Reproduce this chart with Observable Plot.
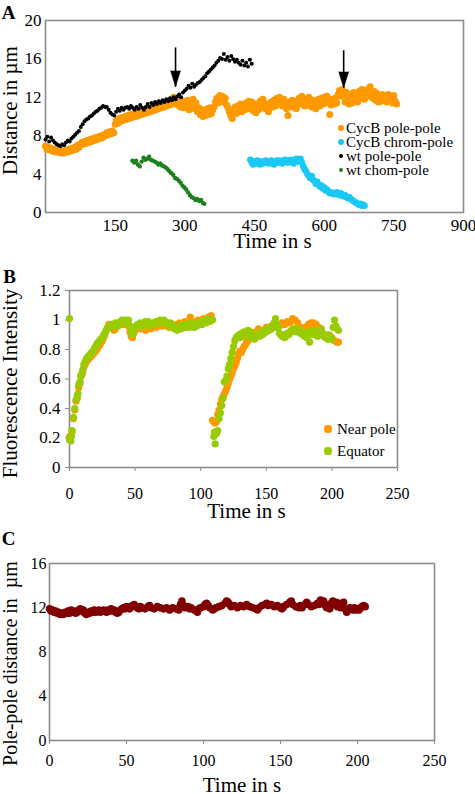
<!DOCTYPE html>
<html><head><meta charset="utf-8">
<script src="https://cdn.jsdelivr.net/npm/d3@7"></script>
<script src="https://cdn.jsdelivr.net/npm/@observablehq/plot@0.6"></script>
<style>
body{margin:0;background:#fff;font-family:"Liberation Serif",serif;}
#root{position:relative;width:475px;height:794px;overflow:hidden;}
#root svg, #root svg text{font-family:"Liberation Serif",serif !important;}
.panel{position:absolute;left:0;}
.leg{position:absolute;display:flex;align-items:center;white-space:nowrap;font-family:"Liberation Serif",serif;color:#000;}
.leg .box{display:inline-flex;width:10px;justify-content:center;align-items:center;}
.leg .dot{display:inline-block;border-radius:50%;}
</style>
</head><body>
<div id="root">
  <div class="panel" id="pa" style="top:0"></div>
  <div class="panel" id="pb" style="top:260px"></div>
  <div class="panel" id="pc" style="top:530px"></div>
</div>
<script>
// ---------- Panel A data: [time s, distance µm] ----------
const cycbPolePole = [[0,6.9],[3,6.6],[6,6.8],[9,6.5],[12,6.7],[15,6.4],[18,6.6],[21,6.3],[24,6.5],[27,6.3],[30,6.4],[33,6.2],[36,6.4],[39,6.2],[42,6.3],[45,6.5],[48,6.3],[51,6.6],[54,6.4],[57,6.7],[60,6.5],[63,6.8],[66,6.6],[69,7.0],[72,6.8],[75,7.1],[78,7.3],[81,7.1],[84,7.4],[87,7.2],[90,7.5],[93,7.3],[96,7.6],[99,7.4],[102,7.7],[105,7.5],[108,7.8],[111,7.6],[114,7.9],[117,7.7],[120,8.0],[123,7.8],[126,8.1],[129,8.0],[132,8.3],[135,8.1],[138,8.4],[141,8.2],[144,8.5],[147,8.3],[150,9.2],[153,9.6],[156,9.3],[159,9.8],[162,9.5],[165,9.9],[168,9.6],[171,10.0],[174,9.7],[177,10.1],[180,9.8],[183,10.2],[186,9.9],[189,10.1],[192,10.4],[195,10.0],[198,10.3],[201,10.1],[204,10.5],[207,10.2],[210,10.6],[213,10.3],[216,10.7],[219,10.4],[222,10.8],[225,10.5],[228,10.9],[231,10.6],[234,11.0],[237,10.7],[240,11.1],[243,10.8],[246,11.2],[249,10.9],[252,11.3],[255,11.0],[258,11.4],[261,11.1],[264,11.5],[267,11.2],[270,11.7],[273,11.3],[276,12.0],[279,11.4],[282,11.8],[285,11.2],[288,11.5],[291,11.0],[294,11.3],[297,10.9],[300,11.6],[303,11.0],[306,11.7],[309,10.7],[312,11.5],[315,11.0],[318,11.8],[321,10.8],[324,11.4],[327,10.5],[330,10.9],[333,10.2],[336,10.7],[339,10.0],[342,10.5],[345,10.1],[348,10.8],[351,10.2],[354,10.9],[357,10.3],[360,10.7],[363,11.0],[366,11.5],[369,11.9],[372,11.4],[375,12.2],[378,11.6],[381,12.1],[384,11.5],[387,11.9],[390,11.2],[393,10.9],[396,10.5],[399,10.1],[402,9.8],[405,10.6],[408,11.0],[411,10.3],[414,11.1],[417,10.6],[420,11.3],[423,10.5],[426,11.2],[429,10.7],[432,11.4],[435,10.8],[438,11.6],[441,10.9],[444,11.5],[447,10.6],[450,11.3],[453,10.4],[456,11.1],[459,10.7],[462,11.6],[465,11.0],[468,11.8],[471,11.2],[474,10.8],[477,11.3],[480,10.5],[483,11.0],[486,11.5],[489,11.0],[492,11.7],[495,11.1],[498,11.9],[501,11.3],[504,12.0],[507,11.4],[510,11.1],[513,11.8],[516,11.2],[519,10.8],[522,10.1],[525,11.5],[528,11.0],[531,11.7],[534,11.1],[537,11.6],[540,10.8],[543,11.4],[546,11.9],[549,11.3],[552,12.1],[555,11.5],[558,11.1],[561,11.8],[564,11.2],[567,12.0],[570,11.4],[573,11.0],[576,11.7],[579,11.2],[582,10.8],[585,11.5],[588,11.8],[591,11.1],[594,11.9],[597,11.3],[600,12.0],[603,11.4],[606,12.1],[609,11.5],[612,10.2],[615,11.2],[618,11.8],[621,11.3],[624,11.9],[627,11.4],[630,12.3],[633,12.7],[636,12.1],[639,12.8],[642,12.3],[645,11.5],[648,12.5],[651,12.0],[654,11.3],[657,12.1],[660,11.4],[663,12.5],[666,11.7],[669,12.3],[672,11.5],[675,12.6],[678,11.9],[681,12.8],[684,12.1],[687,11.8],[690,12.7],[693,12.1],[696,12.9],[699,13.1],[702,12.3],[705,11.9],[708,12.6],[711,11.7],[714,12.4],[717,11.5],[720,12.2],[723,11.6],[726,12.3],[729,11.7],[732,12.1],[735,11.5],[738,12.3],[741,11.7],[744,12.1],[747,11.4],[750,12.2],[753,11.6],[756,11.3]];

const cycbChromPole = [[441,5.5],[444,5.2],[447,5.0],[450,5.3],[453,5.1],[456,5.4],[459,5.2],[462,5.0],[465,5.3],[468,5.1],[471,5.3],[474,5.4],[477,5.2],[480,5.1],[483,5.3],[486,5.4],[489,5.2],[492,5.0],[495,5.3],[498,5.4],[501,5.2],[504,5.4],[507,5.3],[510,5.1],[513,5.4],[516,5.5],[519,5.3],[522,5.2],[525,5.4],[528,5.5],[531,5.3],[534,5.1],[537,5.4],[540,5.6],[543,5.3],[546,5.5],[549,5.6],[552,5.2],[555,4.8],[558,4.5],[561,4.3],[564,4.0],[567,3.8],[570,3.6],[573,3.8],[576,3.4],[579,3.3],[582,3.0],[585,3.2],[588,2.9],[591,2.7],[594,2.8],[597,2.5],[600,2.6],[603,2.3],[606,2.4],[609,2.2],[612,2.0],[615,2.1],[618,2.0],[621,1.9],[624,2.0],[627,2.1],[630,1.9],[633,1.8],[636,2.0],[639,1.8],[642,1.7],[645,1.8],[648,1.6],[651,1.5],[654,1.6],[657,1.4],[660,1.3],[663,1.2],[666,1.1],[669,1.0],[672,0.9],[675,0.8],[678,0.9],[681,0.7],[684,0.8],[687,0.7]];

const wtPolePole = [[0,7.6],[4,7.9],[8,7.4],[12,7.8],[16,7.5],[20,7.3],[24,7.1],[28,7.0],[32,6.9],[36,7.1],[40,7.0],[44,7.3],[48,7.5],[52,7.4],[56,7.7],[60,7.9],[64,8.1],[68,8.3],[72,8.5],[76,8.9],[80,9.2],[84,9.5],[88,9.7],[92,9.8],[96,10.0],[100,10.1],[104,10.3],[108,10.5],[112,10.6],[116,10.8],[120,10.9],[124,11.1],[128,11.0],[132,11.0],[136,10.7],[140,10.4],[144,10.2],[148,10.1],[152,10.5],[156,10.8],[160,10.6],[164,10.9],[168,10.7],[172,10.9],[176,11.0],[180,10.8],[184,11.1],[188,10.9],[192,10.7],[196,11.0],[200,10.8],[204,11.2],[208,10.9],[212,10.7],[216,11.0],[220,11.3],[224,11.0],[228,11.4],[232,11.2],[236,11.5],[240,11.3],[244,11.6],[248,11.4],[252,11.7],[256,11.5],[260,11.8],[264,11.6],[268,11.9],[272,11.7],[276,12.0],[280,11.8],[284,12.1],[288,12.3],[292,12.0],[296,12.5],[300,12.7],[304,12.9],[308,13.2],[312,13.0],[316,13.4],[320,13.1],[324,13.3],[328,13.5],[332,13.6],[336,13.8],[340,14.0],[344,14.2],[348,14.5],[352,14.7],[356,14.9],[360,15.1],[364,15.3],[368,15.6],[372,15.8],[376,16.1],[380,16.0],[384,16.5],[388,15.9],[392,16.2],[396,15.8],[400,16.3],[404,16.0],[408,15.7],[412,15.9],[416,15.6],[420,15.4],[424,15.8],[428,15.3],[432,15.6],[436,15.2],[440,15.9],[444,15.5]];

const wtChromPole = [[187,5.4],[191,5.2],[195,5.4],[199,5.0],[203,4.8],[207,5.3],[211,5.7],[215,5.5],[219,5.6],[223,5.8],[227,5.5],[231,5.4],[235,5.3],[239,5.2],[243,5.0],[247,5.1],[251,4.9],[255,4.8],[259,4.7],[263,4.5],[267,4.3],[271,4.1],[275,3.9],[279,3.6],[283,3.5],[287,3.3],[291,3.1],[295,2.8],[299,2.6],[303,2.4],[307,2.1],[311,1.8],[315,1.6],[319,1.5],[323,1.3],[327,1.4],[331,1.2],[335,1.3],[339,1.0],[342,0.9]];

const arrowTimes = [280, 642];
const arrowFrom = [17.2, 16.9];
const arrowTo = [13.1, 13.0];

const xTicksA = [150, 300, 450, 600, 750, 900];
const yTicksA = [0, 4, 8, 12, 16, 20];
const legendA = ["CycB pole-pole", "CycB chrom-pole", "wt pole-pole", "wt chom-pole"];

// ---------- Panel B data: [time s, fluorescence intensity] ----------
const nearPole = [[0,0.21],[0.5,0.19],[1,0.2],[2,0.24],[3,0.33],[4,0.39],[5,0.45],[6,0.47],[7,0.54],[8,0.57],[9,0.62],[10,0.64],[11,0.68],[12,0.7],[13,0.72],[14,0.73],[15,0.74],[16,0.75],[17,0.76],[18,0.77],[19,0.78],[20,0.79],[21,0.8],[22,0.82],[23,0.83],[24,0.85],[25,0.86],[26,0.88],[27,0.9],[28,0.93],[29,0.95],[30,0.97],[31,0.97],[32,0.96],[33,0.95],[34,0.93],[35,0.94],[36,0.96],[37,0.97],[38,0.98],[39,0.97],[40,0.98],[41,0.99],[42,0.97],[43,0.98],[44,0.97],[45,0.96],[46,0.92],[47,0.89],[48,0.88],[49,0.91],[50,0.93],[52,0.95],[54,0.94],[56,0.95],[58,0.93],[60,0.95],[62,0.94],[64,0.96],[66,0.95],[68,0.97],[70,0.96],[72,0.98],[74,0.96],[76,0.95],[78,0.97],[80,0.96],[82,0.97],[84,0.98],[86,0.97],[88,0.99],[90,0.98],[92,1.02],[94,0.99],[96,0.98],[98,1.0],[100,0.99],[102,1.01],[104,1.0],[106,1.02],[108,1.03],[109,0.32],[110,0.31],[111,0.3],[112,0.31],[113,0.36],[114,0.39],[115,0.43],[116,0.46],[117,0.48],[118,0.5],[119,0.52],[120,0.54],[121,0.57],[122,0.6],[123,0.62],[124,0.64],[125,0.67],[126,0.69],[127,0.71],[128,0.74],[129,0.77],[130,0.79],[131,0.78],[132,0.8],[133,0.82],[134,0.83],[135,0.85],[136,0.86],[137,0.88],[138,0.89],[139,0.9],[140,0.91],[142,0.92],[144,0.94],[146,0.93],[148,0.92],[150,0.95],[152,0.93],[154,0.96],[156,0.95],[158,0.97],[160,0.96],[162,0.98],[164,0.97],[166,0.99],[168,0.98],[170,1.01],[172,1.0],[174,0.98],[176,0.95],[178,0.93],[180,0.95],[182,0.97],[184,0.98],[185,0.96],[186,0.98],[188,0.97],[190,0.95],[192,0.93],[194,0.9],[196,0.88],[198,0.9],[200,0.88],[202,0.86],[204,0.85],[205,0.85]];

const equator = [[0,1.01],[0,0.19],[1,0.18],[1.5,0.21],[2,0.25],[3,0.34],[4,0.4],[5,0.46],[6,0.49],[6.5,0.5],[7,0.56],[8,0.58],[8.5,0.62],[9,0.63],[10,0.66],[11,0.7],[12,0.72],[13,0.74],[14,0.75],[15,0.76],[16,0.77],[17,0.78],[18,0.79],[19,0.81],[20,0.82],[21,0.84],[22,0.85],[23,0.86],[24,0.87],[25,0.88],[26,0.9],[27,0.91],[28,0.93],[29,0.94],[30,0.95],[31,0.96],[32,0.97],[33,0.96],[34,0.97],[35,0.98],[36,0.97],[37,0.96],[38,0.98],[39,0.99],[40,1.0],[41,0.99],[42,0.98],[43,1.0],[44,0.99],[45,1.0],[46,0.96],[47,0.92],[48,0.9],[49,0.93],[50,0.95],[51,0.96],[52,0.97],[53,0.96],[54,0.98],[55,0.97],[56,0.96],[57,0.98],[58,0.99],[59,0.97],[60,0.99],[61,0.98],[62,0.96],[63,0.97],[64,0.98],[65,0.97],[66,0.99],[67,0.98],[68,0.99],[69,1.0],[70,0.99],[71,0.98],[72,1.0],[73,0.99],[74,0.98],[75,0.97],[76,0.96],[77,0.98],[78,0.95],[79,0.96],[80,0.94],[81,0.95],[82,0.93],[83,0.95],[84,0.96],[85,0.94],[86,0.96],[87,0.97],[88,0.95],[89,0.96],[90,0.97],[91,0.95],[92,0.96],[93,0.98],[94,0.97],[95,0.95],[96,0.97],[97,0.96],[98,0.98],[99,0.97],[100,0.99],[101,0.97],[102,0.98],[103,1.0],[104,0.98],[105,0.99],[106,1.01],[107,0.99],[108,1.0],[109,1.0],[110,0.21],[110.5,0.24],[111,0.16],[112,0.23],[113,0.25],[114,0.33],[115,0.37],[116,0.42],[117,0.47],[118,0.58],[119,0.59],[120,0.62],[121,0.67],[122,0.7],[123,0.74],[124,0.78],[125,0.82],[126,0.86],[127,0.88],[128,0.89],[129,0.9],[130,0.88],[131,0.91],[132,0.9],[133,0.92],[134,0.89],[135,0.91],[136,0.93],[137,0.9],[138,0.92],[139,0.88],[140,0.9],[141,0.87],[142,0.89],[143,0.9],[144,0.91],[145,0.89],[146,0.92],[147,0.9],[148,0.91],[149,0.93],[150,0.92],[151,0.94],[152,0.93],[153,0.95],[154,0.94],[155,0.96],[156,0.98],[157,1.01],[158,0.97],[159,0.95],[160,0.91],[161,0.9],[162,0.89],[163,0.9],[164,0.88],[165,0.89],[166,0.91],[167,0.9],[168,0.92],[169,0.93],[170,0.92],[171,0.94],[172,0.93],[173,0.92],[174,0.94],[175,0.93],[176,0.91],[177,0.92],[178,0.9],[179,0.89],[180,0.91],[181,0.88],[182,0.92],[183,0.85],[184,0.9],[185,0.91],[186,0.93],[187,0.9],[188,0.92],[189,0.89],[190,0.93],[191,0.9],[192,0.94],[193,0.91],[194,0.89],[195,0.88],[196,0.9],[197,0.87],[198,0.89],[199,0.88],[200,0.87],[201,0.95],[202,1.0],[203,0.96],[204,0.94],[205,0.93]];

const xTicksB = [0, 50, 100, 150, 200, 250];
const yTicksB = [0, 0.2, 0.4, 0.6, 0.8, 1, 1.2];
const legendB = ["Near pole", "Equator"];

// ---------- Panel C data: [time s, pole-pole distance µm] ----------
const polePoleC = [[0,11.9],[1,11.7],[2,11.8],[3,11.6],[4,11.7],[5,11.5],[6,11.6],[7,11.4],[8,11.5],[9,11.4],[10,11.6],[11,11.5],[12,11.7],[13,11.5],[14,11.8],[15,11.6],[16,11.7],[17,11.5],[18,11.6],[19,11.8],[20,11.9],[21,11.7],[22,11.8],[23,11.5],[24,11.4],[25,11.6],[26,11.5],[27,11.7],[28,11.6],[29,11.8],[30,11.6],[31,11.7],[32,11.8],[33,11.6],[34,11.7],[35,11.8],[36,11.7],[37,11.6],[38,11.8],[39,11.7],[40,11.9],[41,11.7],[42,11.8],[43,11.6],[44,11.5],[45,11.6],[46,11.8],[47,11.9],[48,12.0],[49,11.9],[50,12.1],[51,12.0],[52,11.9],[53,12.1],[54,12.2],[55,12.3],[56,12.1],[57,12.0],[58,11.9],[59,12.1],[60,12.0],[62,11.9],[64,12.1],[65,12.2],[66,12.0],[68,11.9],[70,12.1],[72,12.0],[74,11.9],[76,12.0],[78,11.8],[80,12.0],[82,11.9],[84,11.8],[85,12.3],[86,12.6],[87,12.2],[88,12.0],[90,12.1],[91,11.9],[92,12.0],[94,11.8],[96,11.6],[97,11.9],[98,12.0],[100,12.1],[101,12.3],[102,12.4],[103,12.2],[104,12.0],[106,11.8],[107,11.9],[108,12.0],[110,12.1],[112,12.2],[114,12.4],[115,12.6],[116,12.5],[117,12.3],[118,12.1],[120,12.2],[122,12.0],[124,12.2],[126,12.1],[128,12.3],[130,12.1],[132,12.0],[134,11.9],[135,11.8],[136,12.0],[138,12.2],[140,12.3],[141,12.4],[142,12.2],[144,12.3],[146,12.1],[148,12.2],[150,12.0],[151,11.9],[152,12.1],[154,12.3],[156,12.5],[157,12.6],[158,12.3],[160,12.1],[162,12.0],[163,12.2],[164,12.0],[166,12.3],[167,12.5],[168,12.3],[170,12.1],[172,12.2],[174,12.4],[175,12.3],[176,12.7],[177,12.5],[178,12.6],[179,12.2],[180,12.0],[181,12.3],[182,11.9],[183,12.4],[184,12.6],[185,12.3],[186,12.5],[187,12.1],[188,12.4],[189,12.0],[190,12.3],[191,12.5],[192,11.9],[193,11.6],[194,11.8],[195,12.0],[196,11.9],[197,11.8],[198,12.0],[199,11.8],[200,11.9],[201,11.8],[202,12.0],[203,12.1],[204,12.2],[205,12.1]];

const xTicksC = [0, 50, 100, 150, 200, 250];
const yTicksC = [0, 4, 8, 12, 16];

// ---------- colours ----------
const ORANGE = "#FF9900", CYAN = "#1AC8F5", BLACK = "#000000", GREEN = "#1E7F1E";
const LIME = "#99CC00", MAROON = "#800000", FRAME = "#8c8c8c";
const FONT = "Liberation Serif";
const tx = d => d[0], ty = d => d[1];

const baseStyle = {fontFamily: FONT, fontSize: "17px", background: "transparent", overflow: "visible", color: "#000"};
const T = {fontFamily: FONT, textAnchor: "middle", lineAnchor: "middle", fill: "#000"};

// ---------- Panel A ----------
const plotA = Plot.plot({
  width: 475, height: 260,
  marginTop: 20, marginBottom: 48, marginLeft: 45, marginRight: 12,
  style: baseStyle,
  x: {domain: [0, 900]},
  y: {domain: [0, 20]},
  marks: [
    Plot.frame({stroke: FRAME, strokeWidth: 1.6}),
    Plot.axisX({ticks: xTicksA, tickSize: 0, tickPadding: 6, fontSize: 17, fontFamily: FONT, label: null, fill: "#000"}),
    Plot.axisY({ticks: yTicksA, tickSize: 0, tickPadding: 4, fontSize: 17, fontFamily: FONT, label: null, fill: "#000"}),
    Plot.dot(cycbPolePole, {x: tx, y: ty, r: 3.5, fill: ORANGE}),
    Plot.dot(cycbChromPole, {x: tx, y: ty, r: 3.3, fill: CYAN}),
    Plot.dot(wtPolePole, {x: tx, y: ty, r: 2, fill: BLACK}),
    Plot.dot(wtChromPole, {x: tx, y: ty, r: 2.2, fill: GREEN}),
    Plot.link(arrowTimes, {x1: d => d, x2: d => d, y1: (d, i) => arrowFrom[i], y2: (d, i) => arrowTo[i], stroke: "#000", strokeWidth: 1.6}),
    Plot.vector(arrowTimes, {x: d => d, y: (d, i) => arrowTo[i], length: 16, rotate: 180, shape: "spike", anchor: "end", r: 5, fill: "#000", stroke: "#000", strokeWidth: 0.5}),
    Plot.text(["A"], {...T, frameAnchor: "top-left", dx: -37, dy: -8, fontWeight: "bold", fontSize: 19}),
    Plot.text(["Distance in µm"], {...T, frameAnchor: "left", rotate: -90, dx: -35, dy: -6, fontSize: 21}),
    Plot.text(["Time in s"], {...T, frameAnchor: "bottom", dx: 18, dy: 29, fontSize: 21})
  ]
});
document.getElementById("pa").appendChild(plotA);

// ---------- Panel B ----------
const plotB = Plot.plot({
  width: 475, height: 270,
  marginTop: 30, marginBottom: 63, marginLeft: 69, marginRight: 78,
  style: baseStyle,
  x: {domain: [0, 250]},
  y: {domain: [0, 1.2]},
  marks: [
    Plot.frame({stroke: FRAME, strokeWidth: 1.6}),
    Plot.axisX({ticks: xTicksB, tickSize: 4, tickPadding: 16, stroke: FRAME, fill: "#000", fontSize: 16, fontFamily: FONT, label: null}),
    Plot.axisY({ticks: yTicksB, tickSize: 4, tickPadding: 5, stroke: FRAME, fill: "#000", fontSize: 17, fontFamily: FONT, label: null, tickFormat: d => String(+d.toFixed(1))}),
    Plot.dot(nearPole, {x: tx, y: ty, r: 3.6, fill: ORANGE}),
    Plot.dot(equator, {x: tx, y: ty, r: 3.6, fill: LIME}),
    Plot.text(["B"], {...T, frameAnchor: "top-left", dx: -60, dy: -14, fontWeight: "bold", fontSize: 19}),
    Plot.text(["Fluorescence Intensity"], {...T, frameAnchor: "left", rotate: -90, dx: -59, dy: 4.5, fontSize: 21}),
    Plot.text(["Time in s"], {...T, frameAnchor: "bottom", dx: 13, dy: 43.5, fontSize: 21})
  ]
});
document.getElementById("pb").appendChild(plotB);

// ---------- Panel C ----------
const plotC = Plot.plot({
  width: 475, height: 264,
  marginTop: 33, marginBottom: 54, marginLeft: 49, marginRight: 41,
  style: baseStyle,
  x: {domain: [0, 250]},
  y: {domain: [0, 16]},
  marks: [
    Plot.frame({stroke: FRAME, strokeWidth: 1.6}),
    Plot.axisX({ticks: xTicksC, tickSize: 4, tickPadding: 10, stroke: FRAME, fill: "#000", fontSize: 16, fontFamily: FONT, label: null}),
    Plot.axisY({ticks: yTicksC, tickSize: 0, tickPadding: 3, fill: "#000", fontSize: 16, fontFamily: FONT, label: null}),
    Plot.dot(polePoleC, {x: tx, y: ty, r: 3.8, fill: MAROON}),
    Plot.text(["C"], {...T, frameAnchor: "top-left", dx: -41, dy: -25, fontWeight: "bold", fontSize: 19}),
    Plot.text(["Pole-pole distance in  µm"], {...T, frameAnchor: "left", rotate: -90, dx: -39, dy: 11.5, fontSize: 20}),
    Plot.text(["Time in s"], {...T, frameAnchor: "bottom", dx: 0, dy: 44.5, fontSize: 21})
  ]
});
document.getElementById("pc").appendChild(plotC);

// ---------- Legends ----------
const root = document.getElementById("root");
function addLegend(items, colors, radii, left, top, step, fontSize, gap) {
  items.forEach((label, i) => {
    const row = document.createElement("div");
    row.className = "leg";
    row.style.left = left + "px";
    row.style.top = (top + i * step) + "px";
    row.style.height = step + "px";
    row.style.fontSize = fontSize + "px";
    const box = document.createElement("span");
    box.className = "box";
    const dot = document.createElement("span");
    dot.className = "dot";
    dot.style.width = dot.style.height = (2 * radii[i]) + "px";
    dot.style.background = colors[i];
    box.appendChild(dot);
    const txt = document.createElement("span");
    txt.textContent = label;
    txt.style.marginLeft = gap + "px";
    row.appendChild(box);
    row.appendChild(txt);
    root.appendChild(row);
  });
}
addLegend(legendA, [ORANGE, CYAN, BLACK, GREEN], [3, 3, 2, 2], 336, 121, 14, 15, 0);
addLegend(legendB, [ORANGE, LIME], [3.6, 3.6], 323, 418, 22, 15, 4);
</script>
</body></html>
